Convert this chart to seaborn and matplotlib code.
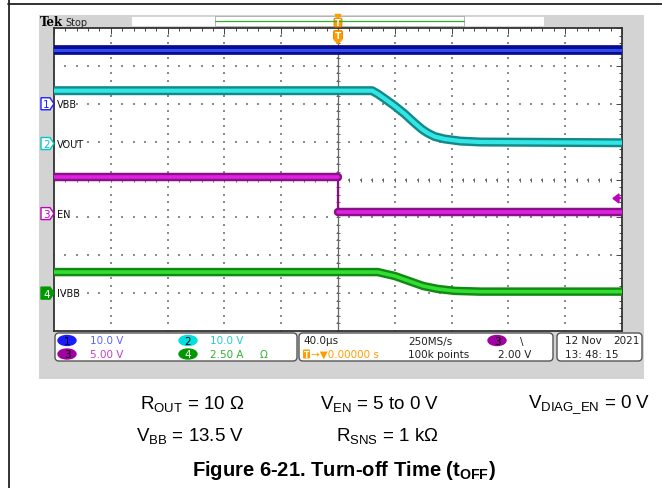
import numpy as np
import pandas as pd
import matplotlib
matplotlib.use("Agg")
import matplotlib.pyplot as plt
import matplotlib.patheffects as pe
from matplotlib.patches import FancyBboxPatch, Rectangle, Polygon, Ellipse
import seaborn as sns

# --- scope captures (time in us, 40 us/div, trigger at t = 0) ---
vbb_t = [-200, 200]
vbb_v = [14.3, 14.3]

vout_t = [-200, 24, 28, 33, 40, 47, 54, 59, 63, 68, 75, 86, 100, 200]
vout_v = [13.95, 13.95, 13.1, 11.8, 9.9, 7.8, 5.4, 3.8, 2.8, 1.85, 1.2, 0.65, 0.4, 0.2]

en_t = [-200, 0, 0, 200]
en_v = [4.85, 4.85, 0.2, 0.2]

ivbb_t = [-200, 28, 40, 50, 60, 70, 82, 100, 200]
ivbb_a = [1.39, 1.39, 1.13, 0.8, 0.47, 0.28, 0.15, 0.1, 0.1]

ch_names = ["VBB", "VOUT", "EN", "IVBB"]
ch_scale = [10.0, 10.0, 5.0, 2.5]      # units per division
ch_pos = [2.0, 0.95, -0.9, -3.0]       # ground marker position, div
ch_core = ["#2a4cf0", "#33e6e6", "#e022e0", "#33dd33"]
ch_edge = ["#0a0a8c", "#138a8a", "#8a108a", "#108a10"]
ch_tag = ["#2020ff", "#00c8c8", "#c000c0", "#009900"]
ch_width = [2.2, 3.0, 2.6, 2.6]
ch_halo = [4.8, 3.5, 3.5, 3.5]

trig_level = 2.0   # V on ch3

status_row1 = [("1", "10.0 V", "#1a1aff", "#5a64ff"), ("2", "10.0 V", "#00e0e0", "#22cccc")]
status_row2 = [("3", "5.00 V", "#a000a0", "#c040c0"), ("4", "2.50 A", "#009900", "#33b033")]

W, H = 662, 489
PX0, PX1, PY0, PY1 = 54, 622, 29, 332
YC = (PY0 + PY1) / 2
DIV = (PY1 - PY0) / 8

sns.set_theme(style="white")
plt.rcParams["font.family"] = ["DejaVu Sans"]
plt.rcParams["mathtext.fontset"] = "custom"
plt.rcParams["mathtext.rm"] = "Liberation Sans"
plt.rcParams["mathtext.bf"] = "Liberation Sans:bold"

fig = plt.figure(figsize=(W / 100, H / 100), dpi=100)
fig.patch.set_facecolor("white")

bg = fig.add_axes([0, 0, 1, 1], zorder=0)
bg.set_xlim(0, W)
bg.set_ylim(H, 0)
bg.axis("off")

ax = fig.add_axes([PX0 / W, 1 - PY1 / H, (PX1 - PX0) / W, (PY1 - PY0) / H], zorder=1)

top = fig.add_axes([0, 0, 1, 1], zorder=2)
top.set_xlim(0, W)
top.set_ylim(H, 0)
top.axis("off")

# page frame and scope bezel
bg.plot([8, W], [5, 5], color="#222222", lw=1.3)
bg.plot([8.5, 8.5], [0, H], color="#222222", lw=1.3)
bg.add_patch(Rectangle((39, 16), 605, 364, color="#d3d3d3", lw=0))

# --- graticule ---
ax.set_facecolor("white")
ax.set_xlim(-200, 200)
ax.set_ylim(-4, 4)
ax.set_xticks(np.arange(-200, 201, 40))
ax.set_yticks(np.arange(-4, 4.1, 1))
ax.set_xticks(np.arange(-200, 201, 8), minor=True)
ax.set_yticks(np.arange(-4, 4.01, 0.2), minor=True)
ax.tick_params(which="both", direction="in", top=True, right=True, color="#444444",
               labelbottom=False, labelleft=False, width=0.7)
ax.tick_params(which="major", length=4)
ax.tick_params(which="minor", length=2.5)
for s in ax.spines.values():
    s.set_color("#333333")
    s.set_linewidth(1.3)

gx, gy = np.meshgrid(np.arange(-160, 161, 40), np.arange(-4, 4.01, 0.2))
ax.scatter(gx.ravel(), gy.ravel(), s=0.7, c="#8c8c8c", marker="s", linewidths=0, zorder=1)
hx, hy = np.meshgrid(np.arange(-200, 201, 8), np.arange(-3, 3.1, 1))
ax.scatter(hx.ravel(), hy.ravel(), s=0.7, c="#8c8c8c", marker="s", linewidths=0, zorder=1)
ax.axvline(0, color="#666666", lw=0.9, zorder=1)
cy = np.arange(-4, 4.01, 0.2)
ax.scatter(np.zeros_like(cy), cy, marker="_", s=10, linewidths=0.7, c="#666666", zorder=1)
cx = np.arange(-200, 201, 8)
ax.scatter(cx, np.zeros_like(cx), marker="|", s=10, linewidths=0.7, c="#666666", zorder=1)

# --- traces ---
traces = [(vbb_t, vbb_v), (vout_t, vout_v), (en_t, en_v), (ivbb_t, ivbb_a)]
for i, (t, v) in enumerate(traces):
    df = pd.DataFrame({"t": t, "value": v})
    df["div"] = ch_pos[i] + df["value"] / ch_scale[i]
    jump = df["t"].diff() == 0
    df["seg"] = jump.cumsum()
    n0 = len(ax.lines)
    # vertical steps (edges) are drawn thin like the scope does
    for j in np.where(jump)[0]:
        ax.plot(df["t"].iloc[j - 1:j + 1], df["div"].iloc[j - 1:j + 1],
                color=ch_edge[i], lw=1.6, zorder=3 + i)
    sns.lineplot(data=df, x="t", y="div", units="seg", ax=ax, estimator=None, sort=False,
                 color=ch_core[i], lw=ch_width[i], zorder=3 + i)
    for ln in ax.lines[n0:]:
        if ln.get_linewidth() > 2:
            ln.set_path_effects([pe.Stroke(linewidth=ch_width[i] + ch_halo[i], foreground=ch_edge[i]),
                                 pe.Normal()])
ax.set_xlabel("")
ax.set_ylabel("")

# channel ground tags and labels
for i, name in enumerate(ch_names):
    py = YC - ch_pos[i] * DIV
    fill = ch_tag[i] if i == 3 else "white"
    top.add_patch(Polygon([(41, py - 6), (50, py - 6), (54, py), (50, py + 6), (41, py + 6)],
                          closed=True, facecolor=fill, edgecolor=ch_tag[i], lw=1))
    top.text(46.5, py + 0.5, str(i + 1), color="white" if i == 3 else ch_tag[i],
             fontsize=7.5, ha="center", va="center")
    top.text(57, py, name, color="#111111", fontsize=7, ha="left", va="center")

# trigger marker inside plot and trigger level arrow
top.add_patch(FancyBboxPatch((333.5, 31.5), 9, 9, boxstyle="round,pad=0,rounding_size=1.5",
                             facecolor="#ff9d00", edgecolor="#e08000", lw=0.6))
top.add_patch(Polygon([(334, 40.5), (342, 40.5), (338, 44.5)], closed=True, color="#ff9d00"))
top.text(338, 36.5, "T", color="white", fontsize=6.5, ha="center", va="center", fontweight="bold")
ly = YC - (ch_pos[2] + trig_level / ch_scale[2]) * DIV
top.add_patch(Polygon([(613, ly), (619, ly - 4.5), (619, ly + 4.5)], closed=True, color="#c000c0"))
top.plot([617, 621], [ly, ly], color="#c000c0", lw=1.5)

# --- top status bar ---
top.text(40, 22.5, "Tek", fontsize=8.5, fontweight="bold", family="DejaVu Serif",
         ha="left", va="center", color="black")
top.text(65, 22.5, "Stop", fontsize=7, ha="left", va="center", color="#222222")
top.add_patch(Rectangle((131, 17), 413, 10, facecolor="white", edgecolor="#d0d0d0", lw=0.6))
top.add_patch(Rectangle((215, 17), 249, 10, facecolor="white", edgecolor="#aaaaaa", lw=0.6))
top.plot([215, 464], [21.5, 21.5], color="#30b030", lw=0.9)
top.add_patch(FancyBboxPatch((334, 19), 8, 9, boxstyle="round,pad=0,rounding_size=1.5",
                             facecolor="#ff9d00", edgecolor="#e08000", lw=0.6))
top.add_patch(Polygon([(335, 15.5), (341, 15.5), (338, 19)], closed=True, color="#ff9d00"))
top.text(338, 23.5, "T", color="white", fontsize=6, ha="center", va="center", fontweight="bold")

# --- bottom readout boxes ---
for x0, x1 in [(55, 297), (299, 553), (557, 642)]:
    bg.add_patch(FancyBboxPatch((x0, 334), x1 - x0, 28, boxstyle="round,pad=0,rounding_size=4",
                                facecolor="white", edgecolor="#555555", lw=1))

fs = 7.5
for row, py in [(status_row1, 341.5), (status_row2, 355)]:
    for k, (num, txt, badge, tcol) in enumerate(row):
        ex = 67 if k == 0 else 188
        bg.add_patch(Ellipse((ex, py), 18, 10, color=badge))
        bg.text(ex, py + 0.5, num, fontsize=fs, ha="center", va="center",
                color="white" if num == "4" else "black")
        bg.text(90 if k == 0 else 210, py, txt, fontsize=fs, ha="left", va="center", color=tcol)
bg.text(260, 355, "\u03a9", fontsize=fs, ha="left", va="center", color="#33b033")

bg.text(303, 341.5, "40.0\u00b5s", fontsize=fs, ha="left", va="center", color="#222222")
bg.add_patch(FancyBboxPatch((303, 350.5), 7, 9, boxstyle="round,pad=0,rounding_size=1",
                            facecolor="#ff9d00", edgecolor="none"))
bg.text(306.5, 355.5, "T", fontsize=5.5, ha="center", va="center", color="white", fontweight="bold")
bg.text(311, 355, "\u2192\u25bc0.00000 s", fontsize=fs, ha="left", va="center", color="#ff9d00")
bg.text(408, 341.5, "250MS/s", fontsize=fs, ha="left", va="center", color="#222222")
bg.text(408, 355, "100k points", fontsize=fs, ha="left", va="center", color="#222222")
bg.add_patch(Ellipse((497, 341.5), 18, 10, color="#a000a0"))
bg.text(497, 342, "3", fontsize=fs, ha="center", va="center", color="black")
bg.text(520, 341.5, "\\", fontsize=fs, ha="left", va="center", color="#222222")
bg.text(498, 355, "2.00 V", fontsize=fs, ha="left", va="center", color="#222222")
bg.text(565, 341.5, "12 Nov", fontsize=fs, ha="left", va="center", color="#222222")
bg.text(640, 341.5, "2021", fontsize=fs, ha="right", va="center", color="#222222")
bg.text(565, 355, "13: 48: 15", fontsize=fs, ha="left", va="center", color="#222222")

# --- caption ---
cap = dict(fontsize=13.5, family="Liberation Sans", ha="center", va="center", color="black")
bg.text(192, 405, "R$_{\\mathrm{OUT}}$ = 10 \u03a9", **cap)
bg.text(380, 405, r"V$_{\mathrm{EN}}$ = 5 to 0 V", **cap)
bg.text(589, 405, r"V$_{\mathrm{DIAG\_EN}}$ = 0 V", **cap)
bg.text(190, 437, r"V$_{\mathrm{BB}}$ = 13.5 V", **cap)
bg.text(387, 437, "R$_{\\mathrm{SNS}}$ = 1 k\u03a9", **cap)
bg.text(344, 470, r"Figure 6-21. Turn-off Time (t$_{\mathbf{OFF}}$)", fontsize=14.5,
        family="Liberation Sans", fontweight="bold", ha="center", va="center", color="black")

fig.savefig("out.png", dpi=100)
